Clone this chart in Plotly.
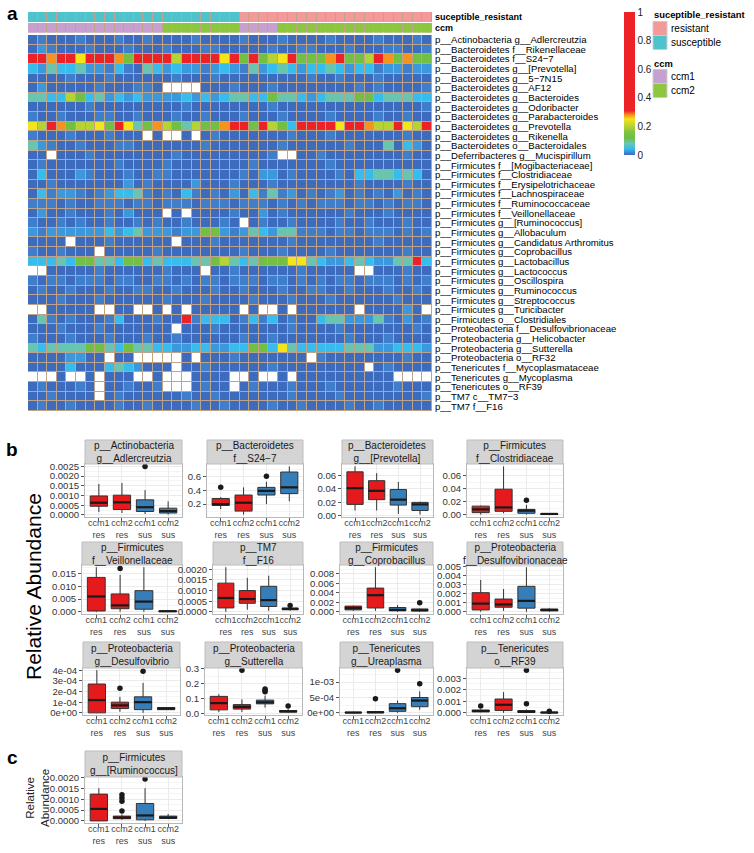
import plotly.graph_objects as go

W, H = 754, 853
FONT = "Liberation Sans, Arial, Helvetica, sans-serif"

# ---------------- data: heatmap (panel a) ----------------
row_labels = [
    "p__Actinobacteria g__Adlercreutzia",
    "p__Bacteroidetes f__Rikenellaceae",
    "p__Bacteroidetes f__S24−7",
    "p__Bacteroidetes g__[Prevotella]",
    "p__Bacteroidetes g__5−7N15",
    "p__Bacteroidetes g__AF12",
    "p__Bacteroidetes g__Bacteroides",
    "p__Bacteroidetes g__Odoribacter",
    "p__Bacteroidetes g__Parabacteroides",
    "p__Bacteroidetes g__Prevotella",
    "p__Bacteroidetes g__Rikenella",
    "p__Bacteroidetes o__Bacteroidales",
    "p__Deferribacteres g__Mucispirillum",
    "p__Firmicutes f__[Mogibacteriaceae]",
    "p__Firmicutes f__Clostridiaceae",
    "p__Firmicutes f__Erysipelotrichaceae",
    "p__Firmicutes f__Lachnospiraceae",
    "p__Firmicutes f__Ruminococcaceae",
    "p__Firmicutes f__Veillonellaceae",
    "p__Firmicutes g__[Ruminococcus]",
    "p__Firmicutes g__Allobaculum",
    "p__Firmicutes g__Candidatus Arthromitus",
    "p__Firmicutes g__Coprobacillus",
    "p__Firmicutes g__Lactobacillus",
    "p__Firmicutes g__Lactococcus",
    "p__Firmicutes g__Oscillospira",
    "p__Firmicutes g__Ruminococcus",
    "p__Firmicutes g__Streptococcus",
    "p__Firmicutes g__Turicibacter",
    "p__Firmicutes o__Clostridiales",
    "p__Proteobacteria f__Desulfovibrionaceae",
    "p__Proteobacteria g__Helicobacter",
    "p__Proteobacteria g__Sutterella",
    "p__Proteobacteria o__RF32",
    "p__Tenericutes f__Mycoplasmataceae",
    "p__Tenericutes g__Mycoplasma",
    "p__Tenericutes o__RF39",
    "p__TM7 c__TM7−3",
    "p__TM7 f__F16",
]

# one character per sample (42 samples); '.' = missing (white)
heat_rows = [
    "010001" "000100" "100001" "000010" "001000" "010000" "100010",
    "021000" "100010" "001000" "110000" "010011" "000100" "011001",
    "998997" "999859" "999699" "997959" "567955" "589556" "985855",
    "324334" "221310" "432322" "123214" "234323" "343233" "122122",
    "000010" "001000" "000100" "010000" "000001" "001000" "100000",
    "020000" "010001" "10...." "000100" "010000" "000010" "100001",
    "443365" "342323" "222232" "323443" "354432" "344455" "344433",
    "000000" "100000" "000010" "000000" "010000" "000000" "000001",
    "100100" "011001" "000100" "100010" "001000" "010000" "100100",
    "769856" "675974" "586546" "558995" "965399" "997998" "669769",
    "100010" "001000" ".0..0." "010000" "000100" "010000" "000100",
    "421001" "000110" "000000" "100000" "001000" "000100" "040320",
    "00.000" "100000" "000100" "000000" "01..00" "100000" "000100",
    "010000" "000100" "001000" "000001" "000000" "010000" "000000",
    "030002" "100010" "011000" "000010" "220100" "001033" "443430",
    "001000" "000020" "100002" "000100" "010000" "000010" "000100",
    "031221" "012334" "101031" "010203" "141201" "012010" "102010",
    "111010" "011101" "101110" "111011" "101010" "111011" "010110",
    "020010" "001020" "00.0.0" "000100" "201000" "000100" "010000",
    "100101" "001001" "010010" "0010.0" "100100" "001001" "000100",
    "212222" "223234" "222122" "552124" "324411" "101101" "110101",
    "0000.0" "001000" "000.00" "010000" "000100" "000000" "100000",
    "100100" "0.0000" "010000" "000010" "001000" "010000" "000100",
    "333435" "544355" "343334" "456434" "555774" "322343" "224493",
    "..0000" "010000" "001000" ".00100" "000010" "0000.." "000100",
    "101101" "110110" "011010" "110111" "011010" "101101" "110101",
    "010010" "001001" "100100" "010010" "001001" "100100" "010010",
    "000100" "010000" "001000" "100001" "000100" "010000" "001000",
    "..0000" "0..00." ".0.0.0" "0000.0" "..0.00" "0000.0" "00020.",
    "041010" "001300" "010091" "333013" "130100" "344222" "410201",
    "000100" "010000" "000.00" "010000" "000100" "001000" "000010",
    "100010" "001000" "100100" "000010" "010000" "000100" "010000",
    "434444" "554354" "433223" "322335" "537433" "333444" "223332",
    "000022" "00.00." "....0." "000100" "00000." "100000" "000100",
    "000030" "003432" "000.00" "100000" "010000" "00000." "010000",
    "...0.." "0.000." ".0...0" "000..0" "..0.00" "000000" "00....",
    "010001" "0.0010" "01...0" "100.01" "000100" "010000" "001000",
    "001000" "0.0100" "000010" "010000" "000100" "001000" "000001",
    "010010" "000100" "100001" "001000" "010010" "000100" "100000",
]
level_value = {"0": 0.0, "1": 0.012, "2": 0.025, "3": 0.045, "4": 0.08,
               "5": 0.13, "6": 0.2, "7": 0.25, "8": 0.28, "9": 0.45}

sample_status = ["susceptible"] * 22 + ["resistant"] * 20
sample_ccm = ["ccm1"] * 14 + ["ccm2"] * 8 + ["ccm1"] * 4 + ["ccm2"] * 16

# ---------------- data: boxplots (panels b, c) ----------------
groups = ["ccm1<br>res", "ccm2<br>res", "ccm1<br>sus", "ccm2<br>sus"]
group_fill = ["#E41A1C", "#E41A1C", "#377EB8", "#377EB8"]

panels = [
    dict(title="p__Actinobacteria<br>g__Adlercreutzia", step=0.0005, fmt=".4f",
         q1=[0.00045, 0.00028, 0.00018, 0.0001], med=[0.00063, 0.00065, 0.0004, 0.0002],
         q3=[0.00098, 0.00102, 0.00078, 0.00035], lo=[0.00015, 0.0001, 0.00005, 0.00002],
         hi=[0.0016, 0.00165, 0.00128, 0.0007], ox=[3], oy=[0.0025]),
    dict(title="p__Bacteroidetes<br>f__S24−7", step=0.2, fmt=".1f",
         q1=[0.18, 0.10, 0.33, 0.35], med=[0.20, 0.22, 0.39, 0.44],
         q3=[0.28, 0.33, 0.44, 0.66], lo=[0.13, 0.05, 0.20, 0.24],
         hi=[0.30, 0.44, 0.52, 0.74], ox=[1, 3], oy=[0.44, 0.60]),
    dict(title="p__Bacteroidetes<br>g__[Prevotella]", step=0.02, fmt=".2f",
         q1=[0.017, 0.024, 0.016, 0.008], med=[0.041, 0.037, 0.024, 0.017],
         q3=[0.065, 0.052, 0.039, 0.020], lo=[0.008, 0.008, 0.003, 0.002],
         hi=[0.073, 0.063, 0.050, 0.021], ox=[], oy=[]),
    dict(title="p__Firmicutes<br>f__Clostridiaceae", step=0.02, fmt=".2f",
         q1=[0.003, 0.005, 0.002, 0.0003], med=[0.008, 0.011, 0.006, 0.001],
         q3=[0.013, 0.039, 0.008, 0.0015], lo=[0.0, 0.002, 0.0, 0.0],
         hi=[0.014, 0.074, 0.015, 0.002], ox=[3], oy=[0.022]),
    dict(title="p__Firmicutes<br>f__Veillonellaceae", step=0.005, fmt=".3f",
         q1=[0.0003, 0.0012, 0.001, 0.0001], med=[0.006, 0.0025, 0.004, 0.0002],
         q3=[0.0135, 0.007, 0.0083, 0.0003], lo=[0.0, 0.0, 0.0, 0.00005],
         hi=[0.0175, 0.0145, 0.0175, 0.0004], ox=[2], oy=[0.017]),
    dict(title="p__TM7<br>f__F16", step=0.0005, fmt=".4f",
         q1=[0.00018, 0.0004, 0.00025, 0.0001], med=[0.00065, 0.0006, 0.00055, 0.00013],
         q3=[0.00135, 0.001, 0.0012, 0.00018], lo=[0.0, 0.0001, 0.00005, 0.00005],
         hi=[0.0021, 0.0016, 0.0017, 0.0002], ox=[4], oy=[0.0003]),
    dict(title="p__Firmicutes<br>g__Coprobacillus", step=0.002, fmt=".3f",
         q1=[0.0004, 0.0008, 0.0002, 0.0002], med=[0.0008, 0.0035, 0.0004, 0.0003],
         q3=[0.0012, 0.005, 0.0009, 0.0006], lo=[0.0002, 0.0002, 0.0, 0.0],
         hi=[0.0013, 0.0094, 0.0014, 0.0007], ox=[4], oy=[0.0019]),
    dict(title="p__Proteobacteria<br>f__Desulfovibrionaceae", step=0.001, fmt=".3f",
         q1=[0.0002, 0.0005, 0.0004, 0.0001], med=[0.0009, 0.0008, 0.0012, 0.0002],
         q3=[0.0021, 0.0014, 0.0028, 0.0003], lo=[0.0, 0.0001, 0.0, 0.0],
         hi=[0.0035, 0.0025, 0.0049, 0.0004], ox=[], oy=[]),
    dict(title="p__Proteobacteria<br>g__Desulfovibrio", step=0.0001, fmt="sci",
         q1=[0.0, 4e-5, 3e-5, 3e-5], med=[1.2e-4, 7e-5, 1e-4, 4e-5],
         q3=[2.7e-4, 1e-4, 1.5e-4, 5e-5], lo=[0.0, 1e-5, 0.0, 3e-5],
         hi=[4e-4, 1.5e-4, 2.8e-4, 5e-5], ox=[2, 3], oy=[2.3e-4, 3.9e-4]),
    dict(title="p__Proteobacteria<br>g__Sutterella", step=0.1, fmt=".1f",
         q1=[0.025, 0.03, 0.065, 0.01], med=[0.07, 0.045, 0.075, 0.015],
         q3=[0.115, 0.06, 0.09, 0.02], lo=[0.01, 0.01, 0.04, 0.005],
         hi=[0.13, 0.095, 0.12, 0.03], ox=[2, 3, 3, 3, 4], oy=[0.29, 0.145, 0.155, 0.165, 0.05]),
    dict(title="p__Tenericutes<br>g__Ureaplasma", step=0.0005, fmt="sci",
         q1=[0.0, 0.0, 5e-5, 2e-4], med=[1e-5, 2e-5, 1.5e-4, 4e-4],
         q3=[2e-5, 4e-5, 3e-4, 5e-4], lo=[0.0, 0.0, 0.0, 1e-4],
         hi=[4e-5, 6e-5, 4e-4, 7e-4], ox=[2, 3, 4], oy=[4.6e-4, 1.39e-3, 9.5e-4]),
    dict(title="p__Tenericutes<br>o__RF39", step=0.001, fmt=".3f",
         q1=[1e-4, 2e-4, 3e-5, 0.0], med=[1.5e-4, 7e-4, 1e-4, 3e-5],
         q3=[2.5e-4, 1.2e-3, 2e-4, 6e-5], lo=[5e-5, 0.0, 0.0, 0.0],
         hi=[3e-4, 1.8e-3, 3e-4, 1e-4], ox=[1, 3, 3, 4], oy=[6e-4, 8e-4, 3.7e-3, 1.5e-4]),
    dict(title="p__Firmicutes<br>g__[Ruminococcus]", step=0.0005, fmt=".4f",
         q1=[0.0, 1e-4, 5e-5, 1.1e-4], med=[5.5e-4, 1.5e-4, 2.5e-4, 1.5e-4],
         q3=[1.23e-3, 2.2e-4, 8e-4, 2.2e-4], lo=[0.0, 5e-5, 0.0, 8e-5],
         hi=[1.5e-3, 3e-4, 1.5e-3, 3.2e-4], ox=[2, 2, 2, 2, 3],
         oy=[4.5e-4, 9e-4, 1.05e-3, 1.2e-3, 1.92e-3]),
]

# ---------------- layout helpers (pixel -> paper) ----------------
def fx(px):
    return px / W

def fy(py):
    return 1 - py / H

# panel geometry: (left, right, strip_top, plot_top, plot_bottom)
rows_y = [(440, 464, 517), (542, 565, 614), (642, 668, 715)]
cols_x = [
    [(85, 182), (207, 303), (342, 433), (467, 563)],
    [(82, 182), (213, 303), (340, 433), (467, 563)],
    [(83, 180), (205, 302), (340, 433), (467, 563)],
]
geom = []
for r in range(3):
    for c in range(4):
        geom.append((cols_x[r][c][0], cols_x[r][c][1]) + rows_y[r])
geom.append((85, 182, 751, 777, 823))

# ---------------- heatmap colours ----------------
heat_scale = [
    [0.0, "#3D6BBD"], [0.012, "#3F7ECB"], [0.025, "#3C98DC"], [0.045, "#38BCEB"],
    [0.08, "#6AC5B0"], [0.12, "#6DBE45"], [0.16, "#80C342"], [0.2, "#B5D334"],
    [0.25, "#F3E41C"], [0.28, "#F6921E"], [0.31, "#EC2227"], [1.0, "#EC2227"],
]
GRID_TAN = "#BFA48C"
RES_COL, SUS_COL = "#F3999A", "#4EC3CB"
CCM1_COL, CCM2_COL = "#C7A0D2", "#8DC63F"

n_rows, n_cols = len(heat_rows), len(heat_rows[0])
Z, Zwhite = [], []
for s in heat_rows:
    Z.append([None if ch == "." else level_value[ch] for ch in s])
    Zwhite.append([1 if ch == "." else None for ch in s])
cols = list(range(n_cols))
rows = list(range(n_rows))

traces = []
traces.append(go.Heatmap(
    z=Z, x=cols, y=rows, colorscale=heat_scale, zmin=0, zmax=1, xgap=1, ygap=1,
    xaxis="x", yaxis="y", hoverinfo="skip",
    colorbar=dict(x=fx(624), xanchor="left", y=fy(12), yanchor="top",
                  thickness=11, thicknessmode="pixels", len=143, lenmode="pixels",
                  outlinewidth=0, ticks="", xpad=0, ypad=0,
                  tickvals=[0, 0.2, 0.4, 0.6, 0.8, 1],
                  ticktext=["0", "0.2", "0.4", "0.6", "0.8", "1"],
                  tickfont=dict(size=10, color="#222222", family=FONT)),
))
traces.append(go.Heatmap(
    z=Zwhite, x=cols, y=rows, colorscale=[[0, "white"], [1, "white"]], zmin=0, zmax=1,
    xgap=1, ygap=1, showscale=False, xaxis="x", yaxis="y", hoverinfo="skip"))

status_code = [[0 if s == "susceptible" else 1 for s in sample_status]]
ccm_code = [[0 if s == "ccm1" else 1 for s in sample_ccm]]
traces.append(go.Heatmap(
    z=status_code, x=cols, y=[0], zmin=0, zmax=1, showscale=False, xgap=1,
    colorscale=[[0, SUS_COL], [0.5, SUS_COL], [0.5, RES_COL], [1, RES_COL]],
    xaxis="x2", yaxis="y2", hoverinfo="skip"))
traces.append(go.Heatmap(
    z=ccm_code, x=cols, y=[0], zmin=0, zmax=1, showscale=False, xgap=1,
    colorscale=[[0, CCM1_COL], [0.5, CCM1_COL], [0.5, CCM2_COL], [1, CCM2_COL]],
    xaxis="x3", yaxis="y3", hoverinfo="skip"))

layout = dict(
    width=W, height=H, margin=dict(l=0, r=0, t=0, b=0),
    paper_bgcolor="white", plot_bgcolor="white", showlegend=False,
    template="none", font=dict(family=FONT, size=10, color="black"),
)
hidden_x = dict(range=[-0.5, n_cols - 0.5], showticklabels=False, showgrid=False,
                zeroline=False, ticks="", showline=False, domain=[fx(28), fx(432)])
layout["xaxis"] = dict(hidden_x, anchor="y")
layout["yaxis"] = dict(domain=[fy(411), fy(35)], anchor="x", range=[n_rows - 0.5, -0.5],
                       tickmode="array", tickvals=rows, ticktext=row_labels, side="right",
                       showgrid=False, zeroline=False, ticks="", ticklabelstandoff=2,
                       tickfont=dict(size=9.6, color="black", family=FONT))
layout["xaxis2"] = dict(hidden_x, anchor="y2")
layout["yaxis2"] = dict(domain=[fy(22), fy(12)], anchor="x2", range=[0.5, -0.5],
                        tickmode="array", tickvals=[0], ticktext=["<b>suceptible_resistant</b>"],
                        side="right", showgrid=False, zeroline=False, ticks="", ticklabelstandoff=2,
                        tickfont=dict(size=9, color="black", family=FONT))
layout["xaxis3"] = dict(hidden_x, anchor="y3")
layout["yaxis3"] = dict(domain=[fy(32.5), fy(23)], anchor="x3", range=[0.5, -0.5],
                        tickmode="array", tickvals=[0], ticktext=["<b>ccm</b>"],
                        side="right", showgrid=False, zeroline=False, ticks="", ticklabelstandoff=2,
                        tickfont=dict(size=9, color="black", family=FONT))

shapes = []
for ax in ["", "2", "3"]:
    shapes.append(dict(type="rect", xref=f"x{ax} domain", yref=f"y{ax} domain",
                       x0=0, x1=1, y0=0, y1=1, fillcolor=GRID_TAN, line=dict(width=0),
                       layer="below"))

annotations = []

# ---------------- boxplot panels ----------------
for i, p in enumerate(panels):
    ax = i + 4
    xa, ya = f"x{ax}", f"y{ax}"
    left, right, stop, ptop, pbot = geom[i]
    for g in range(4):
        traces.append(go.Box(
            x=[g + 1], q1=[p["q1"][g]], median=[p["med"][g]], q3=[p["q3"][g]],
            lowerfence=[p["lo"][g]], upperfence=[p["hi"][g]],
            fillcolor=group_fill[g], line=dict(color="#333333", width=1),
            width=0.75, whiskerwidth=0, boxpoints=False,
            xaxis=xa, yaxis=ya, hoverinfo="skip"))
    mx, my = [], []
    for g in range(4):
        mx += [g + 1 - 0.375, g + 1 + 0.375, None]
        my += [p["med"][g], p["med"][g], None]
    traces.append(go.Scatter(x=mx, y=my, mode="lines", line=dict(color="#1A1A1A", width=2.2),
                             xaxis=xa, yaxis=ya, hoverinfo="skip"))
    if p["ox"]:
        traces.append(go.Scatter(x=p["ox"], y=p["oy"], mode="markers",
                                 marker=dict(color="#1A1A1A", size=5.5),
                                 xaxis=xa, yaxis=ya, hoverinfo="skip"))
    vals = p["lo"] + p["hi"] + p["oy"]
    vmin, vmax = min(vals), max(vals)
    span = vmax - vmin
    r0, r1 = vmin - 0.05 * span, vmax + 0.05 * span
    step = p["step"]
    tv, tt, mv = [], [], []
    k = 0
    while k * step <= r1 + 1e-12:
        v = round(k * step, 10)
        if v >= r0:
            tv.append(v)
            tt.append(f"{v:.0e}" if p["fmt"] == "sci" else format(v, p["fmt"]))
        mid = round((k + 0.5) * step, 10)
        if r0 <= mid <= r1:
            mv.append(mid)
        k += 1
    layout[f"xaxis{ax}"] = dict(
        domain=[fx(left), fx(right)], anchor=ya, range=[0.4, 4.6],
        tickmode="array", tickvals=[1, 2, 3, 4], ticktext=groups, tickangle=0,
        showgrid=True, gridcolor="#EBEBEB", gridwidth=1, zeroline=False,
        ticks="outside", ticklen=3, tickwidth=1, tickcolor="#555555",
        ticklabelstandoff=-6,
        showline=True, mirror=True, linecolor="#B8B8B8", linewidth=1,
        tickfont=dict(size=9, color="#444444", family=FONT))
    layout[f"yaxis{ax}"] = dict(
        domain=[fy(pbot), fy(ptop)], anchor=xa, range=[r0, r1],
        tickmode="array", tickvals=tv, ticktext=tt,
        showgrid=True, gridcolor="#EBEBEB", gridwidth=1, zeroline=False,
        minor=dict(tickmode="array", tickvals=mv, showgrid=True, gridcolor="#F5F5F5",
                   gridwidth=0.6, ticks=""),
        ticks="outside", ticklen=3, tickwidth=1, tickcolor="#555555",
        showline=True, mirror=True, linecolor="#B8B8B8", linewidth=1,
        tickfont=dict(size=9.6, color="#333333", family=FONT))
    # strip
    shapes.append(dict(type="rect", xref="paper", yref="paper",
                       x0=fx(left), x1=fx(right), y0=fy(ptop), y1=fy(stop),
                       fillcolor="#D4D4D4", line=dict(color="#BDBDBD", width=1)))
    annotations.append(dict(x=fx((left + right) / 2), y=fy((stop + ptop) / 2),
                            xref="paper", yref="paper", text=p["title"], showarrow=False,
                            font=dict(size=10, color="#1A1A1A", family=FONT),
                            xanchor="center", yanchor="middle"))

# ---------------- legend for panel a ----------------
legend_items = [
    ("suceptible_resistant", None, 15),
    ("resistant", RES_COL, 28.5),
    ("susceptible", SUS_COL, 42.5),
    ("ccm", None, 63),
    ("ccm1", CCM1_COL, 76.5),
    ("ccm2", CCM2_COL, 90.5),
]
for label, col, yc in legend_items:
    if col is None:
        annotations.append(dict(x=fx(652), y=fy(yc), xref="paper", yref="paper",
                                text=f"<b>{label}</b>", showarrow=False, xanchor="left",
                                yanchor="middle", font=dict(size=9.4, color="black", family=FONT)))
    else:
        shapes.append(dict(type="rect", xref="paper", yref="paper",
                           x0=fx(653), x1=fx(667), y0=fy(yc + 7), y1=fy(yc - 7),
                           fillcolor=col, line=dict(color="#CCCCCC", width=1)))
        annotations.append(dict(x=fx(669), y=fy(yc), xref="paper", yref="paper",
                                text=label, showarrow=False, xanchor="left",
                                yanchor="middle", font=dict(size=10, color="black", family=FONT)))

# panel letters and axis titles
for letter, px, py in [("a", 12, 14), ("b", 12, 450), ("c", 12, 757)]:
    annotations.append(dict(x=fx(px), y=fy(py), xref="paper", yref="paper",
                            text=f"<b>{letter}</b>", showarrow=False, xanchor="center",
                            yanchor="middle", font=dict(size=19, color="black", family=FONT)))
annotations.append(dict(x=fx(33), y=fy(587), xref="paper", yref="paper",
                        text="Relative Abundance", textangle=-90, showarrow=False,
                        xanchor="center", yanchor="middle",
                        font=dict(size=21, color="black", family=FONT)))
annotations.append(dict(x=fx(37), y=fy(798), xref="paper", yref="paper",
                        text="Relative<br>Abundance", textangle=-90, showarrow=False,
                        xanchor="center", yanchor="middle",
                        font=dict(size=11.5, color="#222222", family=FONT)))

layout["shapes"] = shapes
layout["annotations"] = annotations

fig = go.Figure(data=traces, layout=layout)
fig.write_html("out.html", config={"displayModeBar": False},
               post_script="document.body.style.margin='0';document.body.style.overflow='hidden';")
